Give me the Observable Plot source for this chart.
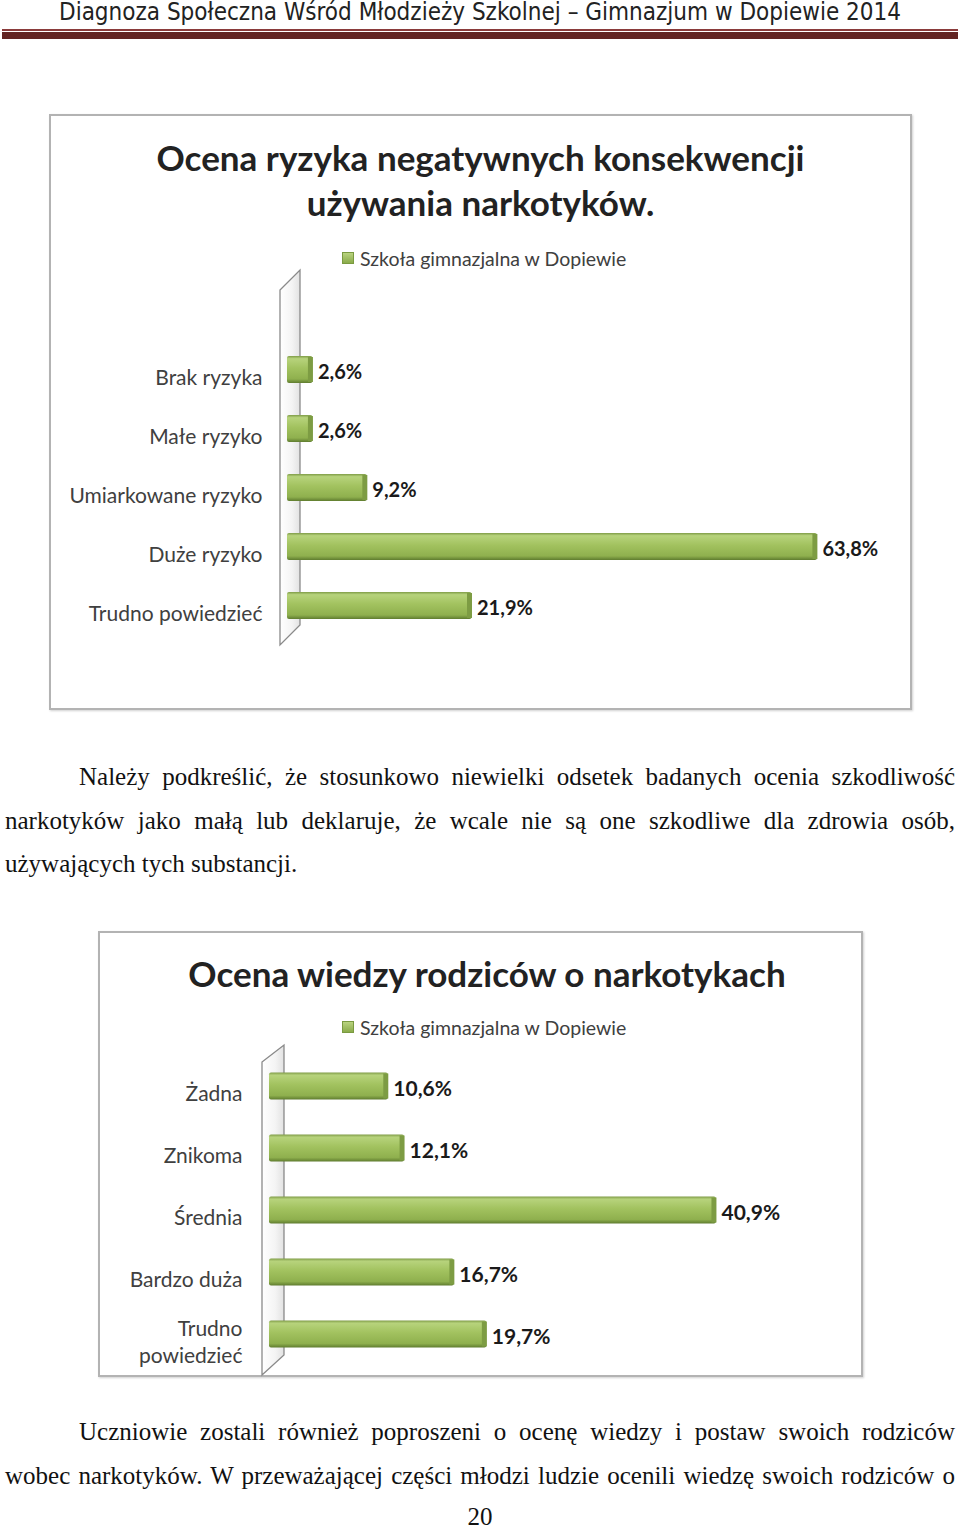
<!DOCTYPE html>
<html><head><meta charset="utf-8">
<script src="https://cdn.jsdelivr.net/npm/d3@7"></script>
<script src="https://cdn.jsdelivr.net/npm/@observablehq/plot@0.6"></script>
<style>
body{margin:0;width:960px;height:1527px;position:relative;background:#fff;overflow:hidden}
.abs{position:absolute}
#header{left:0;top:-1px;white-space:nowrap;font-family:"Liberation Sans Narrow","DejaVu Sans Condensed","Liberation Sans",sans-serif;font-size:25px;line-height:26px;color:#222;transform-origin:0 0}
.rule1{left:2px;width:956px;top:29px;height:2px;background:#8a3b3b}
.rule2{left:2px;width:956px;top:32px;height:7px;background:#622423}
.box{border:2px solid #b3b3b3;box-sizing:border-box;box-shadow:1px 1px 2px #d0d0d0}
.ctitle{font-family:Lato,"Open Sans",sans-serif;font-weight:bold;font-size:35px;color:#222;text-align:center;white-space:nowrap}
.legend{font-family:Lato,"Open Sans",sans-serif;font-size:19.5px;color:#404040;white-space:nowrap;display:flex;align-items:center}
.legend .sw{display:inline-block;width:10px;height:10px;border:1px solid #7a9a40;background:linear-gradient(#b9d37f,#8aab4a);margin-right:6px}
.line{font-family:"Liberation Serif","Times New Roman",serif;font-size:25px;color:#111;height:30px;line-height:30px;white-space:nowrap}
.just{text-align:justify;text-align-last:justify;white-space:normal}
</style></head><body>
<div id="header" class="abs">Diagnoza Społeczna Wśród Młodzieży Szkolnej – Gimnazjum w Dopiewie 2014</div>
<div class="abs rule1"></div><div class="abs rule2"></div>

<div class="abs box" style="left:49px;top:114px;width:863px;height:596px"></div>
<div class="abs ctitle" style="left:49px;width:863px;top:135px;line-height:45px">Ocena ryzyka negatywnych konsekwencji<br>używania narkotyków.</div>
<div class="abs legend" style="left:342px;top:246px;height:24px"><span class="sw"></span><span id="leg1"></span></div>
<div id="chart1" class="abs" style="left:49px;top:265px"></div>

<div class="abs line just" style="left:79px;width:876px;top:762px">Należy podkreślić, że stosunkowo niewielki odsetek badanych ocenia szkodliwość</div>
<div class="abs line just" style="left:5px;width:950px;top:806px">narkotyków jako małą lub deklaruje, że wcale nie są one szkodliwe dla zdrowia osób,</div>
<div class="abs line" style="left:5px;top:849px">używających tych substancji.</div>

<div class="abs box" style="left:98px;top:931px;width:765px;height:446px"></div>
<div class="abs ctitle" style="left:98px;width:778px;top:953px;line-height:40px">Ocena wiedzy rodziców o narkotykach</div>
<div class="abs legend" style="left:342px;top:1015px;height:24px"><span class="sw"></span><span id="leg2"></span></div>
<div id="chart2" class="abs" style="left:98px;top:1040px"></div>

<div class="abs line just" style="left:79px;width:876px;top:1417px">Uczniowie zostali również poproszeni o ocenę wiedzy i postaw swoich rodziców</div>
<div class="abs line just" style="left:5px;width:950px;top:1461px">wobec narkotyków. W przeważającej części młodzi ludzie ocenili wiedzę swoich rodziców o</div>
<div class="abs line" style="left:0;width:960px;text-align:center;top:1502px">20</div>

<script>
// ---- data ----
const seriesName = "Szkoła gimnazjalna w Dopiewie";
const riskCategories = ["Brak ryzyka", "Małe ryzyko", "Umiarkowane ryzyko", "Duże ryzyko", "Trudno powiedzieć"];
const riskValues = [2.6, 2.6, 9.2, 63.8, 21.9];
const parentCategories = ["Żadna", "Znikoma", "Średnia", "Bardzo duża", "Trudno\npowiedzieć"];
const parentValues = [10.6, 12.1, 40.9, 16.7, 19.7];

document.getElementById("leg1").textContent = seriesName;
document.getElementById("leg2").textContent = seriesName;

// header fit
(function(){
  const h = document.getElementById("header");
  const w = h.getBoundingClientRect().width;
  const target = 842;
  h.style.transform = `translate(59px,0) scaleX(${target / w})`;
})();

function barChart(o) {
  const data = o.cats.map((c, i) => ({cat: c, v: o.vals[i]}));
  const fmt = v => v.toFixed(1).replace(".", ",") + "%";
  const plot = Plot.plot({
    width: o.width, height: o.height,
    marginLeft: o.marginLeft, marginRight: o.marginRight,
    marginTop: o.marginTop, marginBottom: o.marginBottom,
    style: {fontFamily: "Lato, 'Open Sans', sans-serif", background: "transparent", overflow: "visible"},
    x: {domain: [0, o.xMax], axis: null},
    y: {domain: o.cats, padding: 0, axis: null},
    marks: [
      Plot.axisY({tickSize: 0, tickPadding: o.tickPad, dy: 6, label: null, fontSize: o.catSize, lineHeight: 1.3, fill: "#404040"}),
      Plot.barX(data, {x: "v", y: "cat", fill: `url(#grad-${o.id})`, insetTop: o.inset, insetBottom: o.inset, insetLeft: -4, rx: 2}),
      Plot.tickX(data, {x: "v", y: "cat", stroke: "#7d9c43", strokeWidth: 5, dx: -2.5, insetTop: o.inset + 1, insetBottom: o.inset + 1}),
      Plot.text(data, {x: "v", y: "cat", text: d => fmt(d.v), textAnchor: "start", dx: 5, dy: 3, fontSize: o.valSize, fontWeight: "bold", fill: "#1a1a1a"})
    ]
  });
  const svg = d3.select(plot);
  const defs = svg.insert("defs", ":first-child");
  const g = defs.append("linearGradient").attr("id", `grad-${o.id}`).attr("x1", 0).attr("x2", 0).attr("y1", 0).attr("y2", 1);
  [[0, "#7f9c47"], [0.1, "#b7d37c"], [0.45, "#a2c25f"], [0.85, "#8fb04e"], [1, "#5f7c2f"]].forEach(([off, c]) =>
    g.append("stop").attr("offset", off).attr("stop-color", c));
  const wg = defs.append("linearGradient").attr("id", `wall-${o.id}`).attr("x1", 0).attr("x2", 1).attr("y1", 0).attr("y2", 0);
  [[0, "#ffffff"], [0.6, "#f4f4f4"], [1, "#e2e2e2"]].forEach(([off, c]) =>
    wg.append("stop").attr("offset", off).attr("stop-color", c));
  const x0 = plot.scale("x").apply(0);
  const w = o.wall;
  svg.insert("polygon", "defs + *")
    .attr("points", [[x0 + w.l, w.tl], [x0 + w.r, w.tr], [x0 + w.r, w.br], [x0 + w.l, w.bl]].map(p => p.join(",")).join(" "))
    .attr("fill", `url(#wall-${o.id})`).attr("stroke", "#8a8a8a").attr("stroke-width", 1.3);
  return plot;
}

document.getElementById("chart1").append(barChart({
  id: 1, cats: riskCategories, vals: riskValues,
  width: 863, height: 385, marginLeft: 242, marginRight: 44, marginTop: 74, marginBottom: 13.5,
  xMax: 70, inset: 16, tickPad: 29, catSize: 21, valSize: 20,
  wall: {l: -11, r: 9, tl: 25, tr: 5, bl: 380, br: 360}
}));

document.getElementById("chart2").append(barChart({
  id: 2, cats: parentCategories, vals: parentValues,
  width: 765, height: 337, marginLeft: 175, marginRight: 48.5, marginTop: 13.75, marginBottom: 10.75,
  xMax: 50, inset: 17.5, tickPad: 31, catSize: 21, valSize: 21,
  wall: {l: -11, r: 11, tl: 22, tr: 5, bl: 335, br: 315}
}));
</script>
</body></html>
